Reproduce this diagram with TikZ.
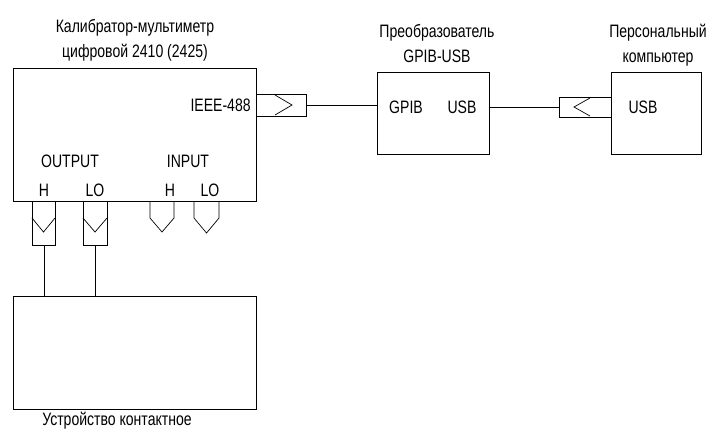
\documentclass[tikz,border=0pt]{standalone}
\usepackage{fontspec}
\setmainfont[FakeStretch=0.78]{Liberation Sans}
\begin{document}
\begin{tikzpicture}[x=1pt,y=-1pt,line width=0.7pt,
  box/.style={draw,anchor=north west,inner sep=0pt},
  lbl/.style={font=\fontsize{18}{25}\selectfont,inner sep=0pt,align=center},
  wire/.style={draw}]
\useasboundingbox (0,0) rectangle (717,429);
% boxes
\node[box,minimum width=243pt,minimum height=133pt] (cal) at (13,68) {};
\node[box,minimum width=112pt,minimum height=82pt] (conv) at (377,72) {};
\node[box,minimum width=90pt,minimum height=82pt] (pc) at (611,72) {};
\node[box,minimum width=243pt,minimum height=113pt] (dev) at (13,296) {};
% connectors
\node[box,minimum width=50pt,minimum height=22pt] (ieeeconn) at (256,94) {};
\node[box,minimum width=52pt,minimum height=20pt] (pcconn) at (559,97) {};
\node[box,minimum width=23pt,minimum height=44pt] (ohconn) at (32,201) {};
\node[box,minimum width=24pt,minimum height=44pt] (olconn) at (83,201) {};
% chevrons
\draw (275,95) -- (292,105) -- (275,115);
\draw (590,98) -- (574,107) -- (590,116);
\draw (32,218) -- (43.5,232) -- (55,218);
\draw (83,218) -- (95,232) -- (107,218);
% input sockets
\draw (150,201) -- (150,218) -- (162,232) -- (174,218) -- (174,201);
\draw (194,201) -- (194,218) -- (206.5,233) -- (219,218) -- (219,201);
% wires
\draw[wire] (ieeeconn.east) -- (ieeeconn.east -| conv.west);
\draw[wire] (pcconn.west) -- (pcconn.west -| conv.east);
\draw[wire] (ohconn.south) -- (ohconn.south |- dev.north);
\draw[wire] (olconn.south) -- (olconn.south |- dev.north);
% texts
\node[lbl] (caltitle) at (135,40) {Калибратор-мультиметр\\цифровой 2410 (2425)};
\node[lbl,anchor=east] (ieee) at (251,105) {IEEE-488};
\node[lbl] (convtitle) at (437,43) {Преобразователь\\GPIB-USB};
\node[lbl] (gpib) at (406,107) {GPIB};
\node[lbl] (usb1) at (462,107) {USB};
\node[lbl] (pctitle) at (658,45) {Персональный\\компьютер};
\node[lbl] (usb2) at (643,107) {USB};
\node[lbl] (outl) at (70,161) {OUTPUT};
\node[lbl] (inl) at (188,161) {INPUT};
\node[lbl] (oh) at (44,190) {H};
\node[lbl] (ol) at (95,190) {LO};
\node[lbl] (ih) at (170,190) {H};
\node[lbl] (il) at (210,190) {LO};
\node[lbl,anchor=base] (devl) at (117,425) {Устройство контактное};
\end{tikzpicture}
\end{document}
